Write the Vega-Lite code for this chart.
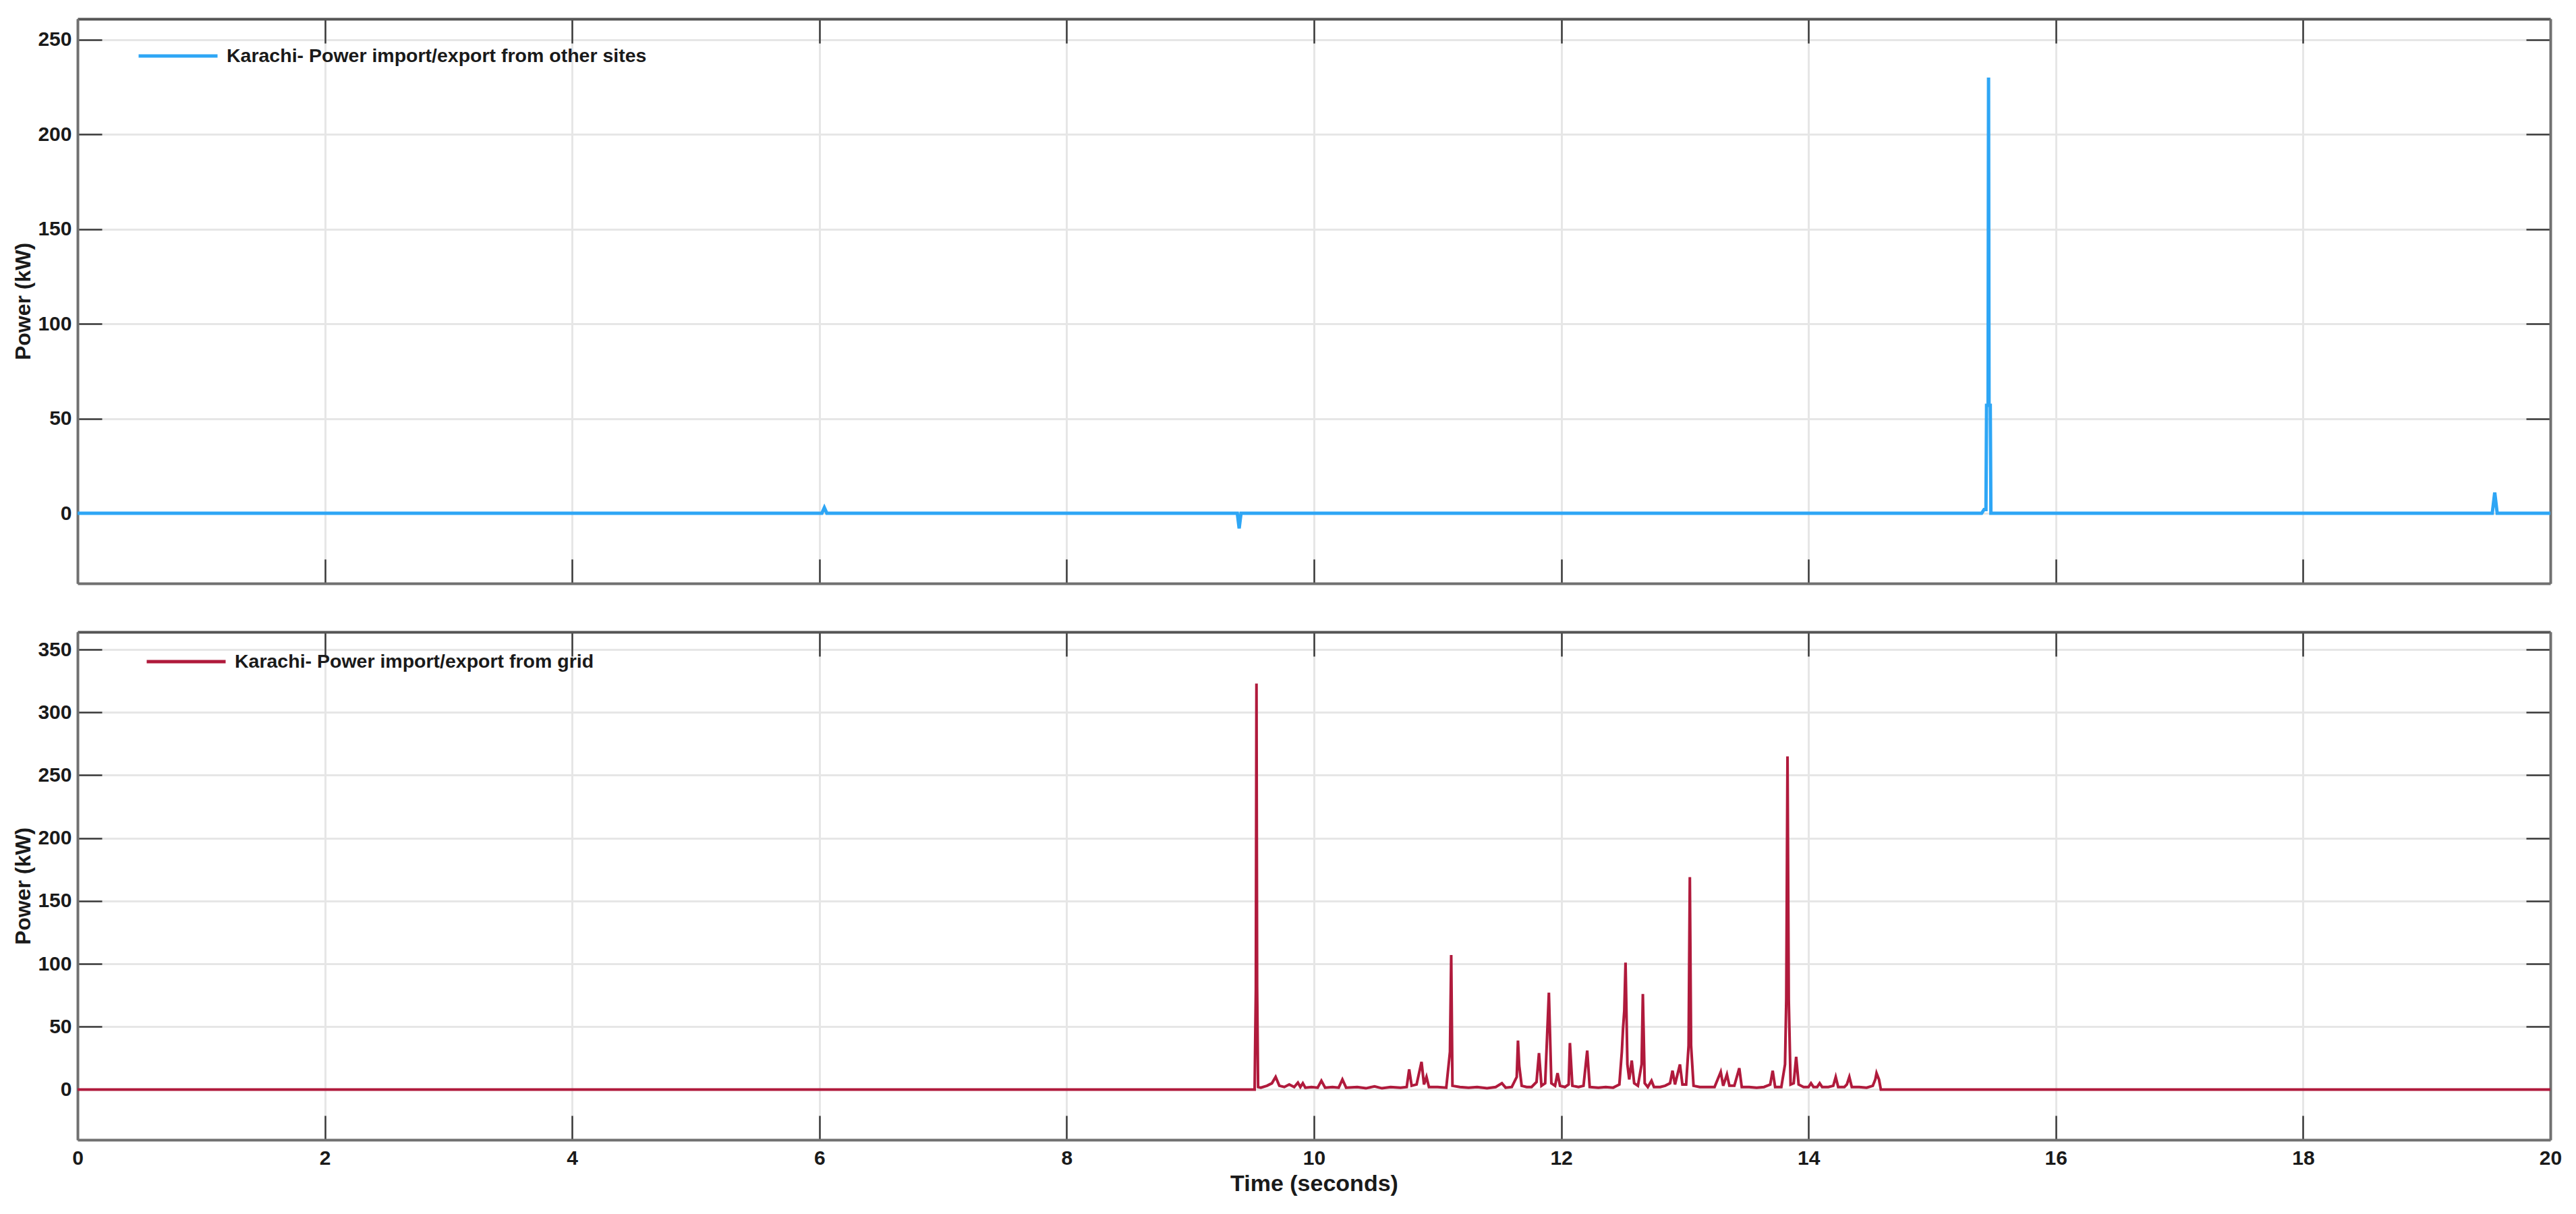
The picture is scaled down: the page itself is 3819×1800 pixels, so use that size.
{
  "$schema": "https://vega.github.io/schema/vega-lite/v6.json",
  "background": "white",
  "padding": {"left": 18, "top": 22, "right": 37, "bottom": 5},
  "spacing": 53,
  "config": {
    "view": {"stroke": null},
    "font": "Liberation Sans",
    "axis": {
      "labelFont": "Liberation Sans", "labelFontWeight": "bold", "labelFontSize": 30, "labelColor": "#1a1a1a",
      "titleFont": "Liberation Sans", "titleFontWeight": "bold", "titleColor": "#1a1a1a",
      "domainColor": "#707070", "domainWidth": 4,
      "tickColor": "#3a3a3a", "tickWidth": 2.5, "tickSize": -36,
      "gridColor": "#e6e6e6", "gridWidth": 3,
      "labelFlush": false, "labelOverlap": false
    },
    "legend": {
      "orient": "none", "title": null, "symbolType": "stroke", "symbolSize": 13689, "symbolStrokeWidth": 5,
      "labelFont": "Liberation Sans", "labelFontWeight": "bold", "labelFontSize": 28.5, "labelColor": "#1a1a1a",
      "labelOffset": 11, "padding": 0, "labelLimit": 0
    }
  },
  "datasets": {
    "sites": [
      {"t": 0, "p": 0, "series": "Karachi- Power import/export from other sites"},
      {"t": 6.02, "p": 0, "series": "Karachi- Power import/export from other sites"},
      {"t": 6.04, "p": 3, "series": "Karachi- Power import/export from other sites"},
      {"t": 6.06, "p": 0, "series": "Karachi- Power import/export from other sites"},
      {"t": 9.38, "p": 0, "series": "Karachi- Power import/export from other sites"},
      {"t": 9.395, "p": -8, "series": "Karachi- Power import/export from other sites"},
      {"t": 9.41, "p": 0, "series": "Karachi- Power import/export from other sites"},
      {"t": 15.40, "p": 0, "series": "Karachi- Power import/export from other sites"},
      {"t": 15.42, "p": 2, "series": "Karachi- Power import/export from other sites"},
      {"t": 15.435, "p": 2, "series": "Karachi- Power import/export from other sites"},
      {"t": 15.44, "p": 57, "series": "Karachi- Power import/export from other sites"},
      {"t": 15.452, "p": 57, "series": "Karachi- Power import/export from other sites"},
      {"t": 15.456, "p": 230, "series": "Karachi- Power import/export from other sites"},
      {"t": 15.46, "p": 57, "series": "Karachi- Power import/export from other sites"},
      {"t": 15.47, "p": 57, "series": "Karachi- Power import/export from other sites"},
      {"t": 15.475, "p": 0, "series": "Karachi- Power import/export from other sites"},
      {"t": 19.53, "p": 0, "series": "Karachi- Power import/export from other sites"},
      {"t": 19.55, "p": 11, "series": "Karachi- Power import/export from other sites"},
      {"t": 19.57, "p": 0, "series": "Karachi- Power import/export from other sites"},
      {"t": 20, "p": 0, "series": "Karachi- Power import/export from other sites"}
    ],
    "grid": [
      {"t": 0, "p": 0, "series": "Karachi- Power import/export from grid"},
      {"t": 9.52, "p": 0, "series": "Karachi- Power import/export from grid"},
      {"t": 9.53, "p": 80, "series": "Karachi- Power import/export from grid"},
      {"t": 9.535, "p": 323, "series": "Karachi- Power import/export from grid"},
      {"t": 9.54, "p": 82, "series": "Karachi- Power import/export from grid"},
      {"t": 9.548, "p": 2, "series": "Karachi- Power import/export from grid"},
      {"t": 9.57, "p": 1.5, "series": "Karachi- Power import/export from grid"},
      {"t": 9.62, "p": 3, "series": "Karachi- Power import/export from grid"},
      {"t": 9.66, "p": 5, "series": "Karachi- Power import/export from grid"},
      {"t": 9.69, "p": 10, "series": "Karachi- Power import/export from grid"},
      {"t": 9.72, "p": 3, "series": "Karachi- Power import/export from grid"},
      {"t": 9.76, "p": 2, "series": "Karachi- Power import/export from grid"},
      {"t": 9.80, "p": 4, "series": "Karachi- Power import/export from grid"},
      {"t": 9.84, "p": 2, "series": "Karachi- Power import/export from grid"},
      {"t": 9.87, "p": 5.5, "series": "Karachi- Power import/export from grid"},
      {"t": 9.89, "p": 2, "series": "Karachi- Power import/export from grid"},
      {"t": 9.91, "p": 5, "series": "Karachi- Power import/export from grid"},
      {"t": 9.93, "p": 1.5, "series": "Karachi- Power import/export from grid"},
      {"t": 9.98, "p": 2, "series": "Karachi- Power import/export from grid"},
      {"t": 10.03, "p": 1.5, "series": "Karachi- Power import/export from grid"},
      {"t": 10.06, "p": 7, "series": "Karachi- Power import/export from grid"},
      {"t": 10.09, "p": 1.5, "series": "Karachi- Power import/export from grid"},
      {"t": 10.15, "p": 2, "series": "Karachi- Power import/export from grid"},
      {"t": 10.20, "p": 1.5, "series": "Karachi- Power import/export from grid"},
      {"t": 10.23, "p": 8, "series": "Karachi- Power import/export from grid"},
      {"t": 10.26, "p": 1.5, "series": "Karachi- Power import/export from grid"},
      {"t": 10.35, "p": 2, "series": "Karachi- Power import/export from grid"},
      {"t": 10.42, "p": 1, "series": "Karachi- Power import/export from grid"},
      {"t": 10.49, "p": 2.5, "series": "Karachi- Power import/export from grid"},
      {"t": 10.55, "p": 1, "series": "Karachi- Power import/export from grid"},
      {"t": 10.62, "p": 2, "series": "Karachi- Power import/export from grid"},
      {"t": 10.70, "p": 1.5, "series": "Karachi- Power import/export from grid"},
      {"t": 10.75, "p": 2, "series": "Karachi- Power import/export from grid"},
      {"t": 10.77, "p": 16, "series": "Karachi- Power import/export from grid"},
      {"t": 10.79, "p": 3, "series": "Karachi- Power import/export from grid"},
      {"t": 10.83, "p": 4, "series": "Karachi- Power import/export from grid"},
      {"t": 10.87, "p": 22, "series": "Karachi- Power import/export from grid"},
      {"t": 10.89, "p": 4, "series": "Karachi- Power import/export from grid"},
      {"t": 10.91, "p": 10, "series": "Karachi- Power import/export from grid"},
      {"t": 10.93, "p": 2, "series": "Karachi- Power import/export from grid"},
      {"t": 11.00, "p": 2, "series": "Karachi- Power import/export from grid"},
      {"t": 11.07, "p": 1.5, "series": "Karachi- Power import/export from grid"},
      {"t": 11.10, "p": 30, "series": "Karachi- Power import/export from grid"},
      {"t": 11.11, "p": 107, "series": "Karachi- Power import/export from grid"},
      {"t": 11.12, "p": 3, "series": "Karachi- Power import/export from grid"},
      {"t": 11.18, "p": 2, "series": "Karachi- Power import/export from grid"},
      {"t": 11.25, "p": 1.5, "series": "Karachi- Power import/export from grid"},
      {"t": 11.32, "p": 2, "series": "Karachi- Power import/export from grid"},
      {"t": 11.40, "p": 1, "series": "Karachi- Power import/export from grid"},
      {"t": 11.47, "p": 2, "series": "Karachi- Power import/export from grid"},
      {"t": 11.52, "p": 5, "series": "Karachi- Power import/export from grid"},
      {"t": 11.55, "p": 1.5, "series": "Karachi- Power import/export from grid"},
      {"t": 11.60, "p": 2, "series": "Karachi- Power import/export from grid"},
      {"t": 11.64, "p": 10, "series": "Karachi- Power import/export from grid"},
      {"t": 11.65, "p": 39, "series": "Karachi- Power import/export from grid"},
      {"t": 11.66, "p": 19, "series": "Karachi- Power import/export from grid"},
      {"t": 11.68, "p": 3, "series": "Karachi- Power import/export from grid"},
      {"t": 11.72, "p": 2, "series": "Karachi- Power import/export from grid"},
      {"t": 11.76, "p": 2, "series": "Karachi- Power import/export from grid"},
      {"t": 11.80, "p": 6, "series": "Karachi- Power import/export from grid"},
      {"t": 11.82, "p": 29, "series": "Karachi- Power import/export from grid"},
      {"t": 11.84, "p": 3, "series": "Karachi- Power import/export from grid"},
      {"t": 11.87, "p": 5, "series": "Karachi- Power import/export from grid"},
      {"t": 11.90, "p": 77, "series": "Karachi- Power import/export from grid"},
      {"t": 11.92, "p": 5, "series": "Karachi- Power import/export from grid"},
      {"t": 11.95, "p": 3, "series": "Karachi- Power import/export from grid"},
      {"t": 11.97, "p": 13, "series": "Karachi- Power import/export from grid"},
      {"t": 11.99, "p": 3, "series": "Karachi- Power import/export from grid"},
      {"t": 12.03, "p": 2, "series": "Karachi- Power import/export from grid"},
      {"t": 12.06, "p": 4, "series": "Karachi- Power import/export from grid"},
      {"t": 12.07, "p": 37, "series": "Karachi- Power import/export from grid"},
      {"t": 12.09, "p": 3, "series": "Karachi- Power import/export from grid"},
      {"t": 12.14, "p": 2, "series": "Karachi- Power import/export from grid"},
      {"t": 12.18, "p": 3, "series": "Karachi- Power import/export from grid"},
      {"t": 12.21, "p": 31, "series": "Karachi- Power import/export from grid"},
      {"t": 12.23, "p": 2, "series": "Karachi- Power import/export from grid"},
      {"t": 12.30, "p": 1.5, "series": "Karachi- Power import/export from grid"},
      {"t": 12.36, "p": 2, "series": "Karachi- Power import/export from grid"},
      {"t": 12.42, "p": 1.5, "series": "Karachi- Power import/export from grid"},
      {"t": 12.47, "p": 4, "series": "Karachi- Power import/export from grid"},
      {"t": 12.49, "p": 30, "series": "Karachi- Power import/export from grid"},
      {"t": 12.50, "p": 49, "series": "Karachi- Power import/export from grid"},
      {"t": 12.51, "p": 63, "series": "Karachi- Power import/export from grid"},
      {"t": 12.52, "p": 101, "series": "Karachi- Power import/export from grid"},
      {"t": 12.535, "p": 20, "series": "Karachi- Power import/export from grid"},
      {"t": 12.55, "p": 8, "series": "Karachi- Power import/export from grid"},
      {"t": 12.57, "p": 23, "series": "Karachi- Power import/export from grid"},
      {"t": 12.59, "p": 5, "series": "Karachi- Power import/export from grid"},
      {"t": 12.62, "p": 3, "series": "Karachi- Power import/export from grid"},
      {"t": 12.65, "p": 20, "series": "Karachi- Power import/export from grid"},
      {"t": 12.66, "p": 76, "series": "Karachi- Power import/export from grid"},
      {"t": 12.675, "p": 5, "series": "Karachi- Power import/export from grid"},
      {"t": 12.70, "p": 2, "series": "Karachi- Power import/export from grid"},
      {"t": 12.73, "p": 7, "series": "Karachi- Power import/export from grid"},
      {"t": 12.75, "p": 2, "series": "Karachi- Power import/export from grid"},
      {"t": 12.80, "p": 2, "series": "Karachi- Power import/export from grid"},
      {"t": 12.84, "p": 3, "series": "Karachi- Power import/export from grid"},
      {"t": 12.88, "p": 5, "series": "Karachi- Power import/export from grid"},
      {"t": 12.90, "p": 15, "series": "Karachi- Power import/export from grid"},
      {"t": 12.92, "p": 4, "series": "Karachi- Power import/export from grid"},
      {"t": 12.96, "p": 20, "series": "Karachi- Power import/export from grid"},
      {"t": 12.98, "p": 4, "series": "Karachi- Power import/export from grid"},
      {"t": 13.01, "p": 4, "series": "Karachi- Power import/export from grid"},
      {"t": 13.03, "p": 35, "series": "Karachi- Power import/export from grid"},
      {"t": 13.04, "p": 169, "series": "Karachi- Power import/export from grid"},
      {"t": 13.05, "p": 35, "series": "Karachi- Power import/export from grid"},
      {"t": 13.07, "p": 3, "series": "Karachi- Power import/export from grid"},
      {"t": 13.12, "p": 2, "series": "Karachi- Power import/export from grid"},
      {"t": 13.18, "p": 2, "series": "Karachi- Power import/export from grid"},
      {"t": 13.24, "p": 2, "series": "Karachi- Power import/export from grid"},
      {"t": 13.29, "p": 14, "series": "Karachi- Power import/export from grid"},
      {"t": 13.31, "p": 3, "series": "Karachi- Power import/export from grid"},
      {"t": 13.34, "p": 12, "series": "Karachi- Power import/export from grid"},
      {"t": 13.36, "p": 3, "series": "Karachi- Power import/export from grid"},
      {"t": 13.40, "p": 3, "series": "Karachi- Power import/export from grid"},
      {"t": 13.44, "p": 17, "series": "Karachi- Power import/export from grid"},
      {"t": 13.46, "p": 2, "series": "Karachi- Power import/export from grid"},
      {"t": 13.52, "p": 2, "series": "Karachi- Power import/export from grid"},
      {"t": 13.58, "p": 1.5, "series": "Karachi- Power import/export from grid"},
      {"t": 13.64, "p": 2, "series": "Karachi- Power import/export from grid"},
      {"t": 13.69, "p": 4, "series": "Karachi- Power import/export from grid"},
      {"t": 13.71, "p": 15, "series": "Karachi- Power import/export from grid"},
      {"t": 13.73, "p": 2, "series": "Karachi- Power import/export from grid"},
      {"t": 13.78, "p": 2, "series": "Karachi- Power import/export from grid"},
      {"t": 13.81, "p": 20, "series": "Karachi- Power import/export from grid"},
      {"t": 13.82, "p": 72, "series": "Karachi- Power import/export from grid"},
      {"t": 13.83, "p": 265, "series": "Karachi- Power import/export from grid"},
      {"t": 13.84, "p": 72, "series": "Karachi- Power import/export from grid"},
      {"t": 13.855, "p": 4, "series": "Karachi- Power import/export from grid"},
      {"t": 13.88, "p": 5, "series": "Karachi- Power import/export from grid"},
      {"t": 13.90, "p": 26, "series": "Karachi- Power import/export from grid"},
      {"t": 13.92, "p": 4, "series": "Karachi- Power import/export from grid"},
      {"t": 13.96, "p": 2, "series": "Karachi- Power import/export from grid"},
      {"t": 14.00, "p": 2, "series": "Karachi- Power import/export from grid"},
      {"t": 14.02, "p": 5, "series": "Karachi- Power import/export from grid"},
      {"t": 14.04, "p": 2, "series": "Karachi- Power import/export from grid"},
      {"t": 14.07, "p": 2, "series": "Karachi- Power import/export from grid"},
      {"t": 14.09, "p": 5, "series": "Karachi- Power import/export from grid"},
      {"t": 14.11, "p": 2, "series": "Karachi- Power import/export from grid"},
      {"t": 14.16, "p": 2, "series": "Karachi- Power import/export from grid"},
      {"t": 14.20, "p": 3, "series": "Karachi- Power import/export from grid"},
      {"t": 14.22, "p": 10, "series": "Karachi- Power import/export from grid"},
      {"t": 14.24, "p": 2, "series": "Karachi- Power import/export from grid"},
      {"t": 14.29, "p": 2, "series": "Karachi- Power import/export from grid"},
      {"t": 14.31, "p": 4, "series": "Karachi- Power import/export from grid"},
      {"t": 14.33, "p": 10, "series": "Karachi- Power import/export from grid"},
      {"t": 14.35, "p": 2, "series": "Karachi- Power import/export from grid"},
      {"t": 14.41, "p": 2, "series": "Karachi- Power import/export from grid"},
      {"t": 14.47, "p": 1.5, "series": "Karachi- Power import/export from grid"},
      {"t": 14.52, "p": 3, "series": "Karachi- Power import/export from grid"},
      {"t": 14.54, "p": 8, "series": "Karachi- Power import/export from grid"},
      {"t": 14.55, "p": 13, "series": "Karachi- Power import/export from grid"},
      {"t": 14.57, "p": 8, "series": "Karachi- Power import/export from grid"},
      {"t": 14.585, "p": 0, "series": "Karachi- Power import/export from grid"},
      {"t": 20, "p": 0, "series": "Karachi- Power import/export from grid"}
    ]
  },
  "vconcat": [
    {
      "width": 3666,
      "height": 837,
      "data": {"name": "sites"},
      "layer": [
        {
          "mark": {"type": "line", "strokeWidth": 5, "clip": true},
          "encoding": {
            "x": {"field": "t", "type": "quantitative", "scale": {"domain": [0, 20], "nice": false},
                  "axis": {"orient": "bottom", "values": [0, 2, 4, 6, 8, 10, 12, 14, 16, 18, 20], "labels": false, "title": null, "grid": true}},
            "y": {"field": "p", "type": "quantitative", "scale": {"domain": [-37, 261], "nice": false, "zero": false},
                  "axis": {"orient": "left", "values": [0, 50, 100, 150, 200, 250], "title": "Power (kW)", "titleFontSize": 32, "labelPadding": 45, "titlePadding": 4, "grid": true}},
            "color": {"field": "series", "type": "nominal", "scale": {"range": ["#2ea6f5"]},
                      "legend": {"legendX": 88, "legendY": -6}}
          }
        },
        {
          "mark": {"type": "line", "opacity": 0},
          "encoding": {
            "x": {"field": "t", "type": "quantitative",
                  "axis": {"orient": "top", "values": [0, 2, 4, 6, 8, 10, 12, 14, 16, 18, 20], "labels": false, "title": null, "grid": false, "domainColor": "#555555"}},
            "y": {"field": "p", "type": "quantitative",
                  "axis": {"orient": "right", "values": [0, 50, 100, 150, 200, 250], "labels": false, "title": null, "grid": false}}
          }
        }
      ],
      "resolve": {"axis": {"x": "independent", "y": "independent"}}
    },
    {
      "width": 3666,
      "height": 753,
      "data": {"name": "grid"},
      "layer": [
        {
          "mark": {"type": "line", "strokeWidth": 4, "clip": true},
          "encoding": {
            "x": {"field": "t", "type": "quantitative", "scale": {"domain": [0, 20], "nice": false},
                  "axis": {"orient": "bottom", "values": [0, 2, 4, 6, 8, 10, 12, 14, 16, 18, 20], "title": "Time (seconds)", "titleFontSize": 34, "labelPadding": 48, "titlePadding": 6, "grid": true}},
            "y": {"field": "p", "type": "quantitative", "scale": {"domain": [-40, 364], "nice": false, "zero": false},
                  "axis": {"orient": "left", "values": [0, 50, 100, 150, 200, 250, 300, 350], "title": "Power (kW)", "titleFontSize": 32, "labelPadding": 45, "titlePadding": 4, "grid": true}},
            "color": {"field": "series", "type": "nominal", "scale": {"range": ["#b01a3c"]},
                      "legend": {"legendX": 100, "legendY": -17}}
          }
        },
        {
          "mark": {"type": "line", "opacity": 0},
          "encoding": {
            "x": {"field": "t", "type": "quantitative",
                  "axis": {"orient": "top", "values": [0, 2, 4, 6, 8, 10, 12, 14, 16, 18, 20], "labels": false, "title": null, "grid": false, "domainColor": "#555555"}},
            "y": {"field": "p", "type": "quantitative",
                  "axis": {"orient": "right", "values": [0, 50, 100, 150, 200, 250, 300, 350], "labels": false, "title": null, "grid": false}}
          }
        }
      ],
      "resolve": {"axis": {"x": "independent", "y": "independent"}}
    }
  ],
  "resolve": {"scale": {"color": "independent"}, "legend": {"color": "independent"}}
}
